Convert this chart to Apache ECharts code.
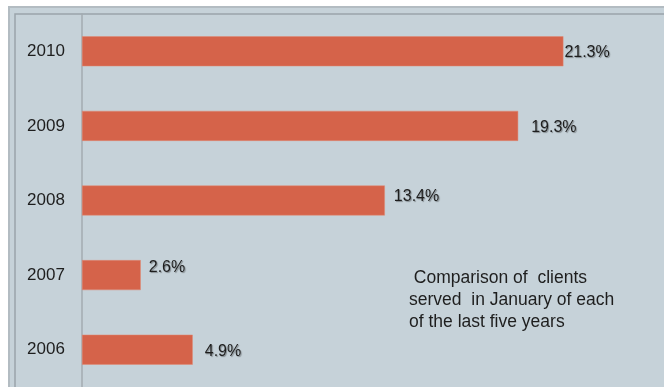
<!DOCTYPE html>
<html>
<head>
<meta charset="utf-8">
<script src="https://cdn.jsdelivr.net/npm/echarts@6/dist/echarts.min.js"></script>
<style>
  html, body { margin: 0; padding: 0; background: #ffffff; }
  #chart { width: 664px; height: 387px; }
</style>
</head>
<body>
<div id="chart"></div>
<script>
// Share of clients served in January, by year (percent)
const years = ['2006', '2007', '2008', '2009', '2010'];
const shares = [4.9, 2.6, 13.4, 19.3, 21.3];
// Per-bar label nudges [dx, dy]
const labelNudges = [[10, 2], [6, -8], [7, -4], [11, 2], [-1, 1]];
const note = ' Comparison of  clients\nserved  in January of each\nof the last five years';

const chart = echarts.init(document.getElementById('chart'));
const textShadow = { textShadowColor: 'rgba(0,0,0,0.35)', textShadowBlur: 1, textShadowOffsetX: 1, textShadowOffsetY: 1 };

chart.setOption({
  backgroundColor: '#ffffff',
  animation: false,
  graphic: [
    // panel background and double frame
    { type: 'rect', z: -10, shape: { x: 9, y: 7, width: 660, height: 390 },
      style: { fill: '#c6d2d9', stroke: '#b3bcc2', lineWidth: 2 } },
    { type: 'polyline', z: -9, shape: { points: [[15, 390], [15, 14], [670, 14]] },
      style: { fill: null, stroke: '#9aa4aa', lineWidth: 1.5 } },
    { type: 'text', left: 409, top: 267, z: 10,
      style: { text: note, fill: '#1e1e1e', font: '17.5px "Liberation Sans", Arial, sans-serif', lineHeight: 22 } }
  ],
  grid: { left: 82, right: 17, top: 14, bottom: -2, containLabel: false },
  xAxis: {
    type: 'value', min: 0, max: 25, show: false
  },
  yAxis: {
    type: 'category',
    data: years,
    axisLine: { show: true, lineStyle: { color: '#a3abb0', width: 1.5 } },
    axisTick: { show: false },
    axisLabel: {
      color: '#1e1e1e', fontSize: 17, fontFamily: '"Liberation Sans", Arial, sans-serif',
      margin: 36, align: 'center'
    }
  },
  series: [{
    type: 'bar',
    barWidth: 30,
    data: shares.map((v, i) => ({
      value: v,
      label: { offset: labelNudges[i] }
    })),
    itemStyle: { color: '#d5634a', borderColor: '#e08a74', borderWidth: 0.5 },
    label: {
      show: true, position: 'right', distance: 2,
      formatter: p => p.value.toFixed(1) + '%',
      color: '#1e1e1e', fontSize: 16, fontFamily: '"Liberation Sans", Arial, sans-serif',
      ...textShadow
    }
  }]
});
</script>
</body>
</html>
